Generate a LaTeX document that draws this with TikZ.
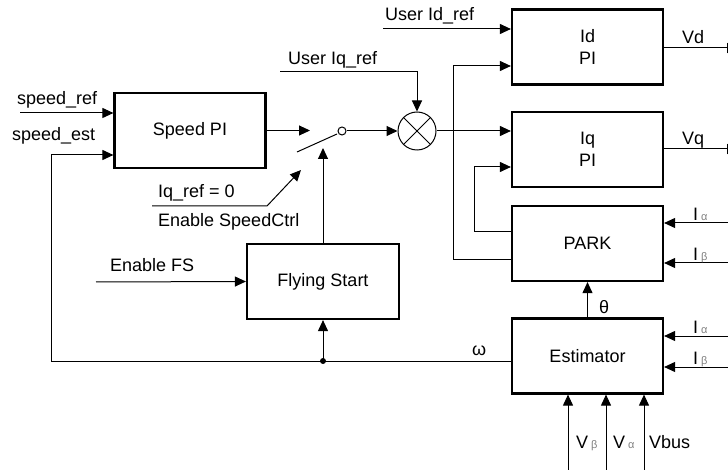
\documentclass[tikz,border=0pt]{standalone}
\usepackage{fontspec}
\setmainfont{Liberation Sans}
\usetikzlibrary{arrows.meta}
\newcommand\subgr[1]{\,{\fontsize{11}{11}\selectfont\color{gray}#1}}
\begin{document}
\begin{tikzpicture}[x=1pt,y=-1pt,
  box/.style={draw,line width=2.2pt,minimum width=151pt,minimum height=75pt,inner sep=0pt,align=center,font=\fontsize{18}{22}\selectfont},
  lbl/.style={inner sep=0pt,anchor=base west,font=\fontsize{18}{22}\selectfont},
  arr/.style={line width=1pt,-{Triangle[length=11pt,width=10pt]}},
  ln/.style={line width=1pt},
]
\useasboundingbox (0,0) rectangle (728,470);
\clip (0,0) rectangle (728,470);

% blocks
\node[box] (spi) at (190,130.5) {Speed PI};
\node[box] (idpi) at (587.5,47) {Id\\PI};
\node[box] (iqpi) at (587.5,149.5) {Iq\\PI};
\node[box] (park) at (587.5,243.5) {PARK};
\node[box] (est) at (587.5,356) {Estimator};
\node[box,minimum width=152pt] (fs) at (323,281.5) {Flying Start};

% coordinates
\coordinate (sr) at (20,113);
\coordinate (fbc) at (51,155);
\coordinate (dot) at (323,361);
\coordinate (swin) at (310,131);
\coordinate (lev0) at (297,152);
\coordinate (swc) at (323,148);
\coordinate (e0) at (152,206);
\coordinate (e1) at (267,206);
\coordinate (e2) at (301,170);
\coordinate (efs) at (96,282);
\coordinate (uiq) at (280,72);
\coordinate (uid) at (383,29);
\coordinate (vd) at (738,48);
\coordinate (vq) at (738,149);
\coordinate (pa) at (453,260);
\coordinate (pat) at (453,66);
\coordinate (pb) at (474,232);
\coordinate (pbt) at (474,167);
\coordinate (pia) at (735,223);
\coordinate (pib) at (735,263);
\coordinate (eia) at (735,336);
\coordinate (eib) at (735,367);
\coordinate (vbt) at (568,475);
\coordinate (vat) at (606,475);
\coordinate (vbus) at (644,475);

% switch and multiplier
\draw[ln] (lev0) -- (337,134);
\node[circle,draw,line width=1pt,fill=white,minimum size=8pt,inner sep=0pt] (sw) at (342,131) {};
\node[circle,draw,line width=1pt,minimum size=38pt,inner sep=0pt] (mult) at (417,131) {};
\draw[ln] (mult.45) -- (mult.225) (mult.135) -- (mult.315);

% connectors
\draw[arr] (sr) -- (sr -| spi.west);
\draw[arr] (est.west |- dot) -| (fbc) -- (fbc -| spi.west);
\fill (dot) circle (3pt);
\draw[arr] (dot) -- (fs.south);
\draw[arr] (fs.north) -- (swc);
\draw[arr] (spi.east) -- (spi.east -| swin);
\draw[arr] (e0) -- (e1) -- (e2);
\draw[arr] (efs) -- (fs.west);
\draw[arr] (sw.east) -- (mult.west);
\draw[arr] (uiq) -| (mult.north);
\draw[arr] (mult.east) -- (iqpi.west |- mult.east);
\draw[arr] (uid) -- (uid -| idpi.west);
\draw[arr] (vd -| idpi.east) -- (vd);
\draw[arr] (vq -| iqpi.east) -- (vq);
\draw[arr] (pa -| park.west) -- (pa) -- (pat) -- (pat -| idpi.west);
\draw[arr] (pb -| park.west) -- (pb) -- (pbt) -- (pbt -| iqpi.west);
\draw[arr] (pia) -- (pia -| park.east);
\draw[arr] (pib) -- (pib -| park.east);
\draw[arr] (eia) -- (eia -| est.east);
\draw[arr] (eib) -- (eib -| est.east);
\draw[arr] (est.north) -- (park.south);
\draw[arr] (vbt) -- (vbt |- est.south);
\draw[arr] (vat) -- (vat |- est.south);
\draw[arr] (vbus) -- (vbus |- est.south);

% labels
\node[lbl] (lsr) at (17,105) {speed\_ref};
\node[lbl] (lse) at (12,141) {speed\_est};
\node[lbl] (liq0) at (158,198) {Iq\_ref = 0};
\node[lbl] (lesc) at (158,227) {Enable SpeedCtrl};
\node[lbl] (lefs) at (110,272) {Enable FS};
\node[lbl] (luiq) at (288,65) {User Iq\_ref};
\node[lbl] (luid) at (385,21) {User Id\_ref};
\node[lbl] (lvd) at (682,44) {Vd};
\node[lbl] (lvq) at (682,145) {Vq};
\node[lbl] (lpia) at (693,221) {I\subgr{α}};
\node[lbl] (lpib) at (693,261) {I\subgr{β}};
\node[lbl] (leia) at (693,333) {I\subgr{α}};
\node[lbl] (leib) at (693,364) {I\subgr{β}};
\node[lbl] (lth) at (599,313) {θ};
\node[lbl] (lom) at (472,355) {ω};
\node[lbl] (lvb) at (576,448) {V\subgr{β}};
\node[lbl] (lva) at (613,448) {V\subgr{α}};
\node[lbl] (lvbus) at (649,448) {Vbus};
\end{tikzpicture}
\end{document}
